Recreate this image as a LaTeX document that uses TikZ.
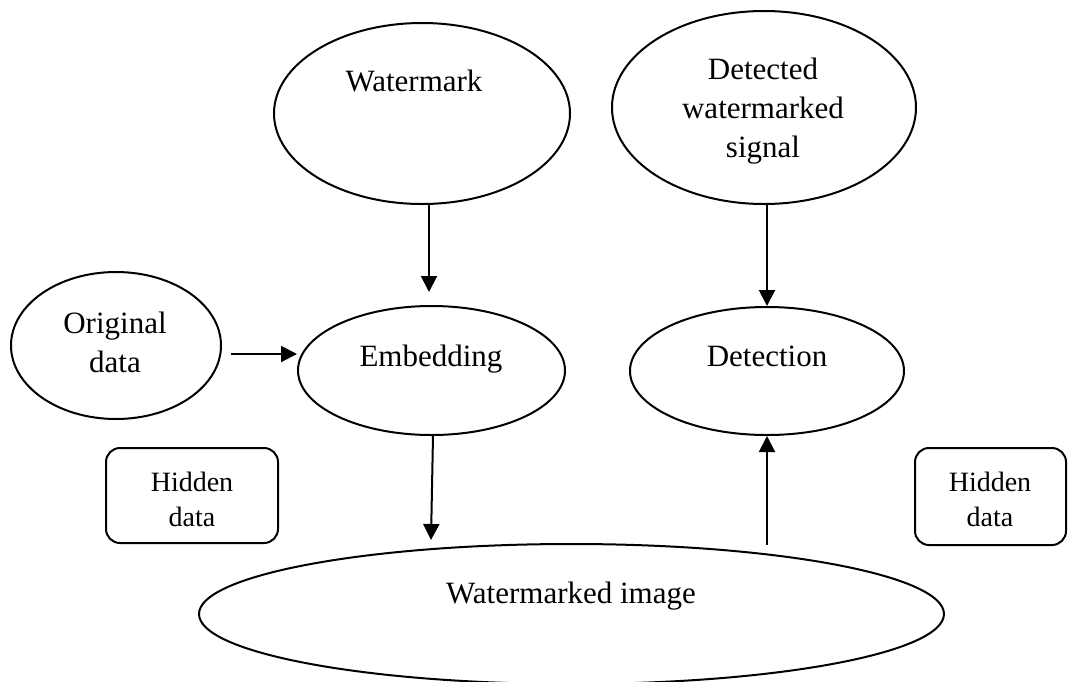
\documentclass[tikz,border=0pt]{standalone}
\usepackage{fontspec}
\setmainfont{Liberation Serif}
\usetikzlibrary{shapes.geometric,arrows.meta}
\begin{document}
\begin{tikzpicture}[x=1pt,y=-1pt,
  oval/.style={draw, ellipse, line width=2pt, inner sep=0pt},
  hbox/.style={draw, rectangle, rounded corners=14pt, line width=2pt, inner sep=0pt},
  lbl/.style={anchor=base, align=center, inner sep=0pt, font=\fontsize{31}{39}\selectfont},
  small/.style={anchor=base, align=center, inner sep=0pt, font=\fontsize{28}{35}\selectfont},
  arr/.style={line width=2pt, -{Triangle[length=16pt,width=16pt]}}]
\useasboundingbox (0,0) rectangle (1072,681);
\clip (0,0) rectangle (1072,681);

% ellipses
\node[oval, minimum width=296pt, minimum height=181pt] (wm) at (422,113.5) {};
\node[oval, minimum width=304pt, minimum height=193pt] (det) at (764,107.5) {};
\node[oval, minimum width=210pt, minimum height=147pt] (orig) at (116,345.5) {};
\node[oval, minimum width=267pt, minimum height=129pt] (emb) at (431.5,370.5) {};
\node[oval, minimum width=274pt, minimum height=128pt] (detn) at (767,371) {};
\node[oval, minimum width=745pt, minimum height=140pt] (wmi) at (571.5,614) {};

% rounded boxes
\node[hbox, minimum width=172pt, minimum height=95pt] (hl) at (192,495.5) {};
\node[hbox, minimum width=151pt, minimum height=97pt] (hr) at (990.5,496.5) {};

% labels (base anchor of a multi-line label sits on its last line)
\node[lbl] (wmT) at (414,91) {Watermark};
\node[lbl] (detT) at (763,157) {Detected\\watermarked\\signal};
\node[lbl] (origT) at (115,372) {Original\\data};
\node[lbl] (embT) at (431,366) {Embedding};
\node[lbl] (detnT) at (767,366) {Detection};
\node[lbl] (wmiT) at (571,603) {Watermarked image};
\node[small] (hlT) at (192,526) {Hidden\\data};
\node[small] (hrT) at (990,526) {Hidden\\data};

% loose arrow ends
\coordinate (a1) at (429,292);
\coordinate (a2) at (231,354);
\coordinate (a4) at (431,540);
\coordinate (a5) at (767,545);

% connectors
\draw[arr] (wm.south -| a1) -- (a1);
\draw[arr] (a2) -- (a2 -| emb.west);
\draw[arr] (det.south -| detn.north) -- (detn.north);
\draw[arr] ([xshift=1.5pt]emb.south) -- (a4);
\draw[arr] (a5) -- (detn.south);
\end{tikzpicture}
\end{document}
